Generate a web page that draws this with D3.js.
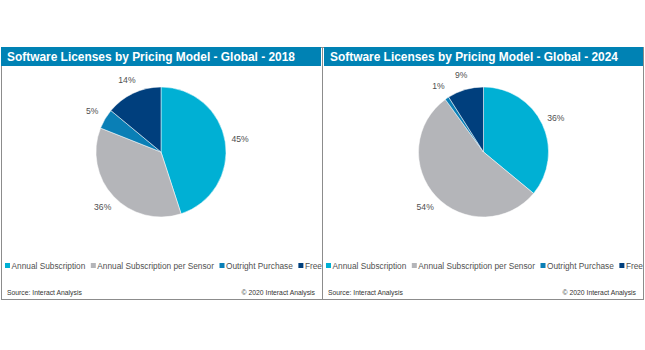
<!DOCTYPE html>
<html>
<head>
<meta charset="utf-8">
<script src="https://cdn.jsdelivr.net/npm/d3@7"></script>
<style>
  body { margin: 0; background: #fff; }
  text { font-family: "Liberation Sans", Arial, sans-serif; }
</style>
</head>
<body>
<div id="chart"></div>
<script>
const categories = ["Annual Subscription", "Annual Subscription per Sensor", "Outright Purchase", "Free"];
const colors = ["#00b0d4", "#b4b5b9", "#0a7fb6", "#003f7d"];
const years = ["2018", "2024"];
const values2018 = [45, 36, 5, 14];
const values2024 = [36, 54, 1, 9];
const seriesValues = [values2018, values2024];

const W = 645, H = 350;
const panelTop = 47, panelBottom = 299;
const panelW = 321;

const svg = d3.select("#chart").append("svg")
    .attr("width", W)
    .attr("height", H);

const pie = d3.pie().sort(null).value(d => d.value);
const arc = d3.arc().innerRadius(0).outerRadius(65);
const labelArc = d3.arc().innerRadius(80).outerRadius(80);

years.forEach(function (year, p) {
    const x0 = 1 + p * panelW;
    const g = svg.append("g").attr("transform", `translate(${x0},0)`);

    // clip for legend overflow
    const clipId = "clip" + p;
    svg.append("clipPath").attr("id", clipId)
        .append("rect").attr("x", x0).attr("y", panelTop).attr("width", panelW).attr("height", panelBottom - panelTop);

    // border
    g.append("rect")
        .attr("x", 0.5).attr("y", panelTop + 0.5)
        .attr("width", panelW).attr("height", panelBottom - panelTop)
        .attr("fill", "#fff")
        .attr("stroke", "#8c8c8c")
        .attr("stroke-width", 1);

    // header bar
    g.append("rect")
        .attr("x", p == 0 ? 0 : 2).attr("y", panelTop)
        .attr("width", panelW - (p == 0 ? 1 : 2)).attr("height", 19)
        .attr("fill", "#0082b4");

    g.append("text")
        .attr("x", p == 0 ? 6 : 8)
        .attr("y", 61)
        .attr("fill", "#fff")
        .attr("font-size", 13)
        .attr("font-weight", "bold")
        .attr("textLength", 288)
        .attr("lengthAdjust", "spacingAndGlyphs")
        .text("Software Licenses by Pricing Model - Global - " + year);

    // pie
    const data = categories.map((c, i) => ({ cat: c, value: seriesValues[p][i], color: colors[i] }));
    const arcs = pie(data);
    const pg = g.append("g").attr("transform", `translate(${160 + p * 1.5},152)`);

    pg.selectAll("path")
        .data(arcs)
        .join("path")
        .attr("d", arc)
        .attr("fill", d => d.data.color)
        .attr("stroke", "#fff")
        .attr("stroke-width", 0.5);

    pg.selectAll("text")
        .data(arcs)
        .join("text")
        .attr("transform", d => `translate(${labelArc.centroid(d)})`)
        .attr("text-anchor", "middle")
        .attr("dominant-baseline", "central")
        .attr("font-size", 8.6)
        .attr("fill", "#505050")
        .text(d => d.data.value + "%");

    // legend (last item runs into the panel edge, as in the source)
    const lg = svg.append("g").attr("clip-path", `url(#${clipId})`)
        .append("g").attr("transform", `translate(${x0 + 4},0)`);
    let lx = 0;
    categories.forEach(function (c, i) {
        lg.append("rect")
            .attr("x", lx).attr("y", 263)
            .attr("width", 5).attr("height", 5)
            .attr("fill", colors[i]);
        const t = lg.append("text")
            .attr("x", lx + 6.5)
            .attr("y", 268.5)
            .attr("font-size", 8.3)
            .attr("fill", "#505050")
            .text(c);
        lx += 6.5 + t.node().getComputedTextLength() + 5.5;
    });

    // footer
    g.append("text")
        .attr("x", 6)
        .attr("y", 294.5)
        .attr("font-size", 6.8)
        .attr("fill", "#333")
        .text("Source: Interact Analysis");

    g.append("text")
        .attr("x", 314)
        .attr("y", 294.5)
        .attr("text-anchor", "end")
        .attr("font-size", 6.8)
        .attr("fill", "#333")
        .text("\u00a9 2020 Interact Analysis");
});
</script>
</body>
</html>
